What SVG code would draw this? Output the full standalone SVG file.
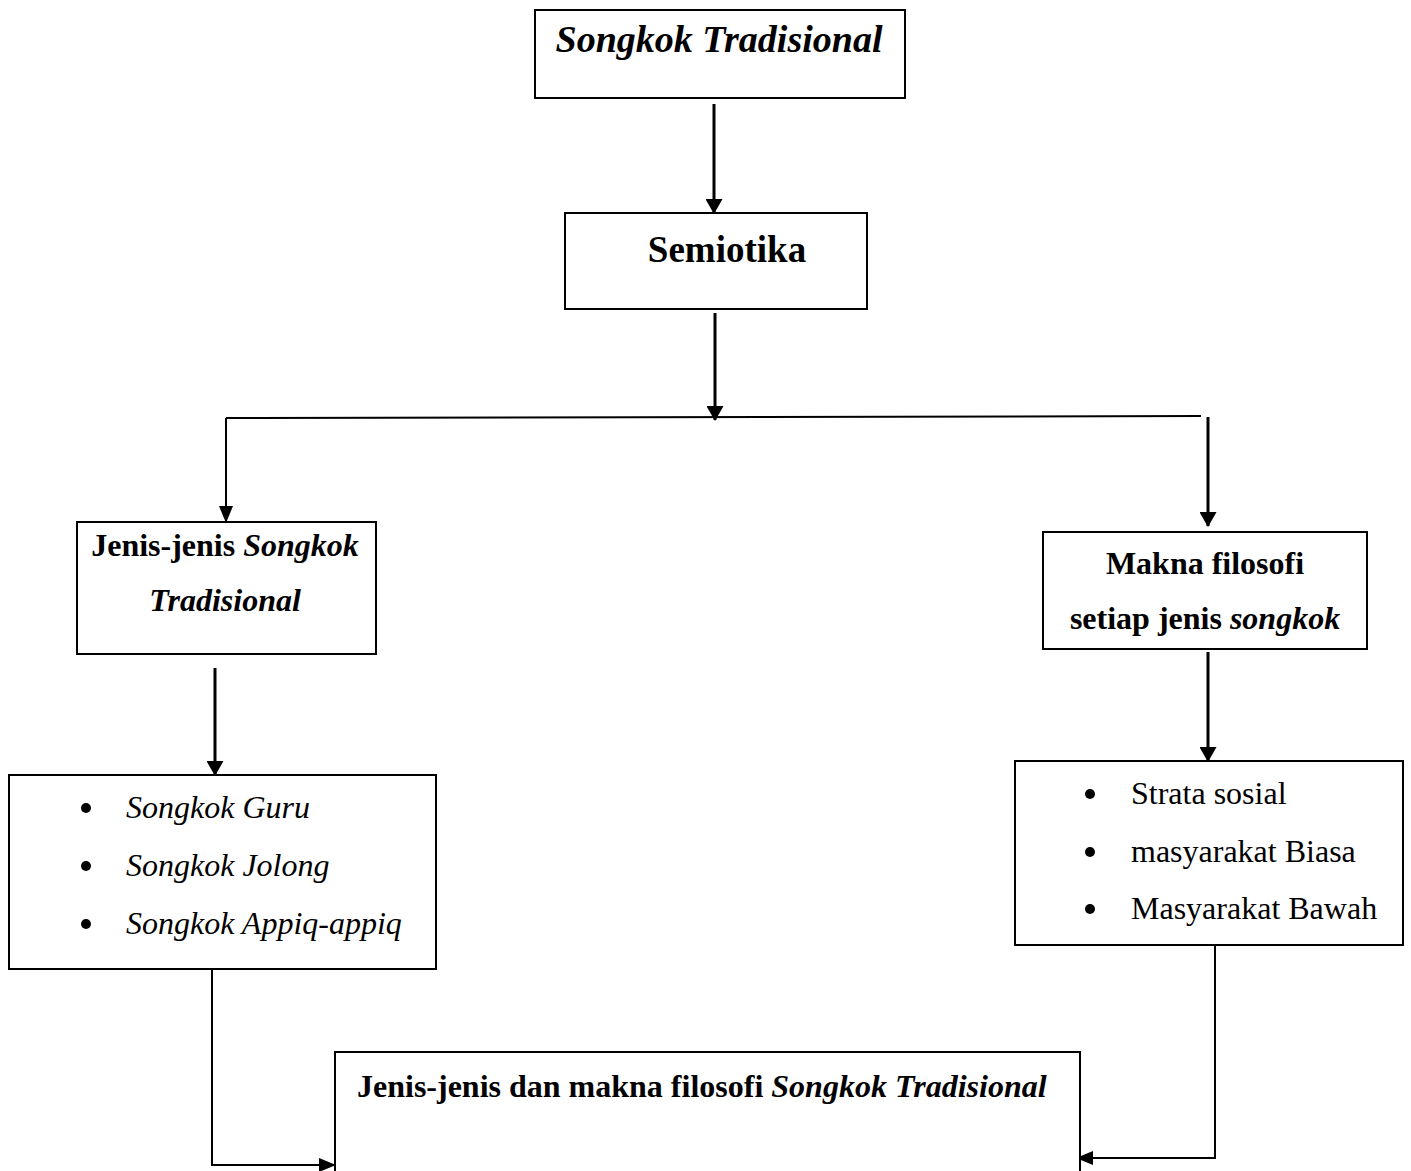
<svg xmlns="http://www.w3.org/2000/svg" width="1411" height="1171" viewBox="0 0 1411 1171">
<style>
.box{fill:#fff;stroke:#000;stroke-width:2}
.t{font-family:"Liberation Serif","Times New Roman",serif;fill:#000}
.b{font-weight:bold}
.i{font-style:italic}
.ln{fill:none;stroke:#000;stroke-width:2}
.ar{fill:none;stroke:#000;stroke-width:3}
</style>
<defs>
<marker id="ah" viewBox="0 0 15 17" refX="14" refY="8.5" markerWidth="15" markerHeight="17" orient="auto" markerUnits="userSpaceOnUse">
<path d="M0,0 L15,8.5 L0,17 Z" fill="#000"/>
</marker>
<marker id="ah2" viewBox="0 0 17 14" refX="16" refY="7" markerWidth="17" markerHeight="14" orient="auto" markerUnits="userSpaceOnUse">
<path d="M0,0 L17,7 L0,14 Z" fill="#000"/>
</marker>
</defs>
<g id="connectors">
<line class="ar" x1="714" y1="104" x2="714" y2="213" marker-end="url(#ah)"/>
<line class="ar" x1="715" y1="313" x2="715" y2="420" marker-end="url(#ah)"/>
<line class="ln" x1="226" y1="418" x2="1201" y2="416"/>
<line class="ln" x1="226" y1="418" x2="226" y2="522" marker-end="url(#ah2)"/>
<line class="ar" x1="1208" y1="417" x2="1208" y2="526" marker-end="url(#ah)"/>
<line class="ar" x1="215" y1="668" x2="215" y2="775" marker-end="url(#ah)"/>
<line class="ar" x1="1208" y1="652" x2="1208" y2="761" marker-end="url(#ah)"/>
<polyline class="ln" points="212,969 212,1165 335,1165" marker-end="url(#ah2)"/>
<polyline class="ln" points="1215,945 1215,1158 1077,1158" marker-end="url(#ah2)"/>
</g>
<g id="node-songkok">
<rect class="box" x="535" y="10" width="370" height="88"/>
<text class="t b i" x="719" y="52" font-size="38" text-anchor="middle">Songkok Tradisional</text>
</g>
<g id="node-semiotika">
<rect class="box" x="565" y="213" width="302" height="96"/>
<text class="t b" x="727" y="262" font-size="37" text-anchor="middle">Semiotika</text>
</g>
<g id="node-jenis">
<rect class="box" x="77" y="522" width="299" height="132"/>
<text class="t b" x="225" y="556" font-size="32" text-anchor="middle">Jenis-jenis <tspan class="i">Songkok</tspan></text>
<text class="t b i" x="225" y="611" font-size="32" text-anchor="middle">Tradisional</text>
</g>
<g id="node-makna">
<rect class="box" x="1043" y="532" width="324" height="117"/>
<text class="t b" x="1205" y="574" font-size="32" text-anchor="middle">Makna filosofi</text>
<text class="t b" x="1205" y="629" font-size="32" text-anchor="middle">setiap jenis <tspan class="i">songkok</tspan></text>
</g>
<g id="node-list-jenis">
<rect class="box" x="9" y="775" width="427" height="194"/>
<circle cx="86" cy="808" r="5"/>
<circle cx="86" cy="866" r="5"/>
<circle cx="86" cy="924" r="5"/>
<text class="t i" x="126" y="818" font-size="32">Songkok Guru</text>
<text class="t i" x="126" y="876" font-size="32">Songkok Jolong</text>
<text class="t i" x="126" y="934" font-size="32">Songkok Appiq-appiq</text>
</g>
<g id="node-list-strata">
<rect class="box" x="1015" y="761" width="388" height="184"/>
<circle cx="1090" cy="794" r="5"/>
<circle cx="1090" cy="852" r="5"/>
<circle cx="1090" cy="909" r="5"/>
<text class="t" x="1131" y="804" font-size="32">Strata sosial</text>
<text class="t" x="1131" y="862" font-size="32">masyarakat Biasa</text>
<text class="t" x="1131" y="919" font-size="32">Masyarakat Bawah</text>
</g>
<g id="node-hasil">
<rect class="box" x="335" y="1052" width="745" height="130"/>
<text class="t b" x="357" y="1097" font-size="32">Jenis-jenis dan makna filosofi <tspan class="i">Songkok Tradisional</tspan></text>
</g>
</svg>
